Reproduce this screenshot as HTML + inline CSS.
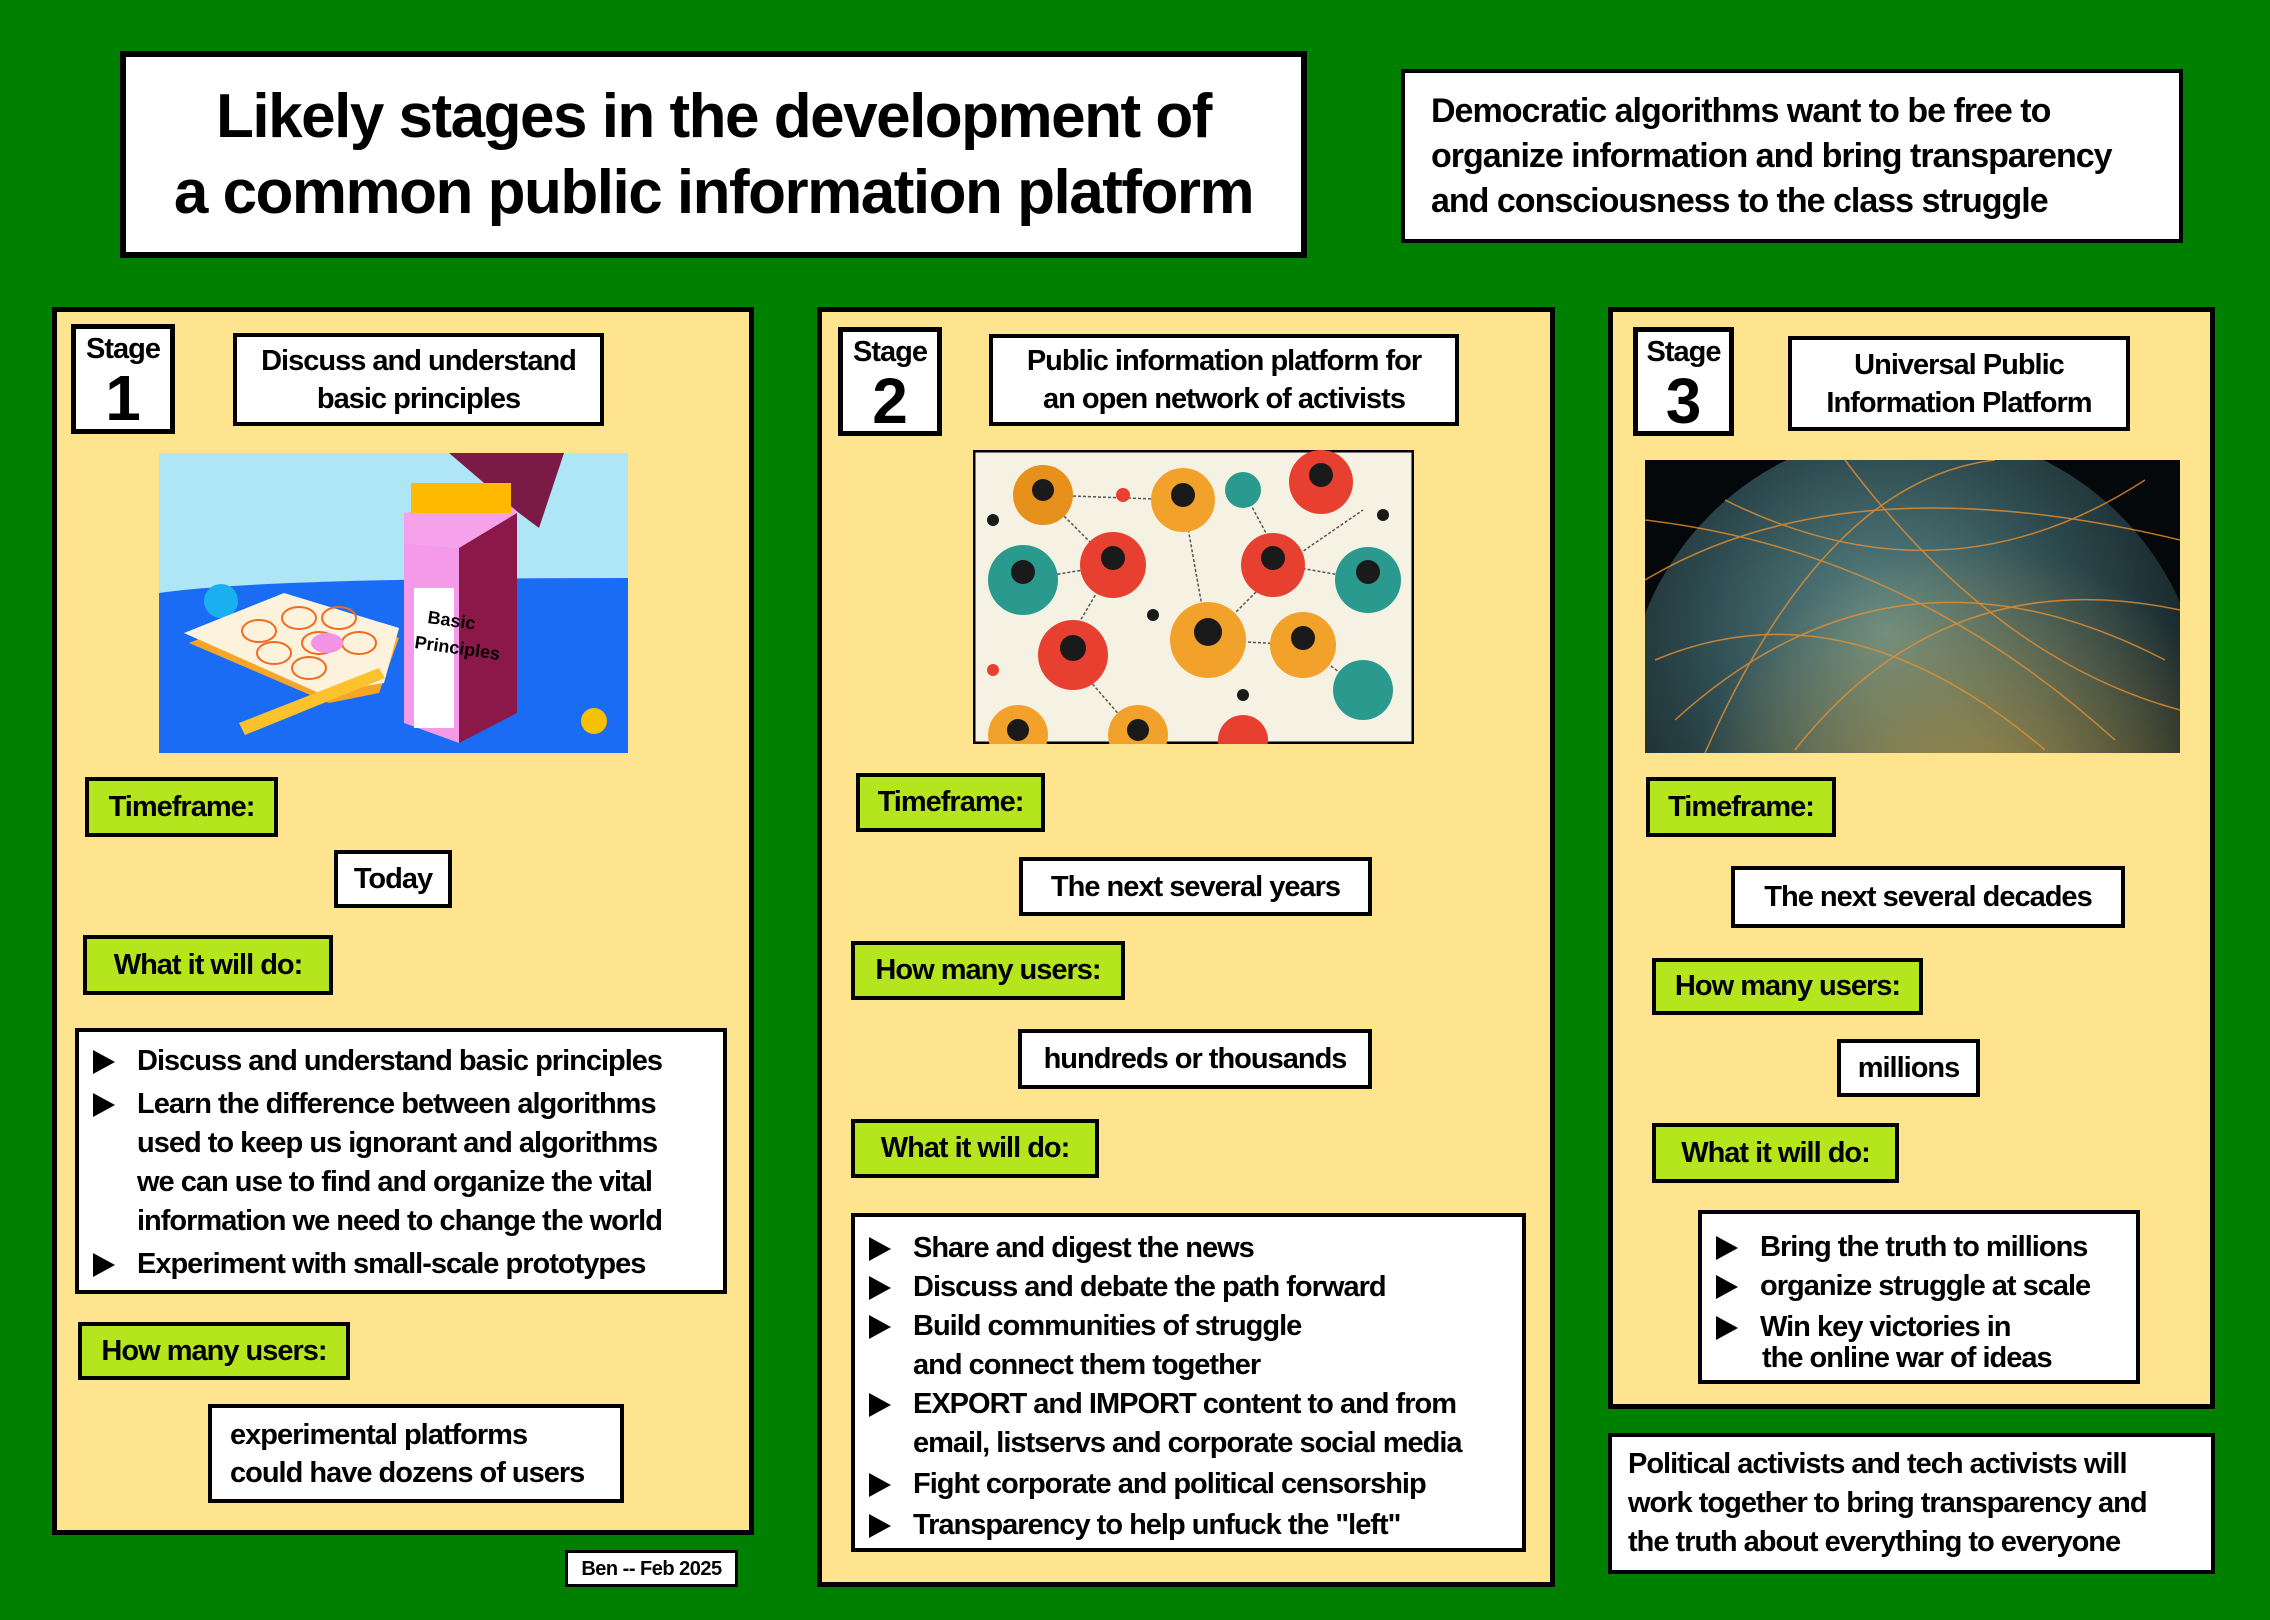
<!DOCTYPE html>
<html><head><meta charset="utf-8"><style>
body{margin:0;width:2270px;height:1620px;background:#008000;position:relative;overflow:hidden;font-family:"Liberation Sans",Arial,sans-serif;font-weight:bold;color:#000}
div{box-sizing:border-box}
.a{position:absolute}
.b{position:absolute;background:#fff;border:4px solid #000;font-size:29px;letter-spacing:-1px;display:flex;align-items:center;justify-content:center;text-align:center;line-height:38px}
.g{position:absolute;background:#b5e61d;border:4px solid #000;font-size:29px;letter-spacing:-1px;display:flex;align-items:center;justify-content:center}
.p{position:absolute;background:#fee48f;border:5px solid #000}
.st{position:absolute;background:#fff;border:5px solid #000;text-align:center;line-height:1}
.st .s{font-size:29px;letter-spacing:-1px;margin-top:6px}
.st .n{font-size:64px;margin-top:2px}
.l{position:absolute;background:#fff;border:4px solid #000;font-size:29px;letter-spacing:-1px;line-height:39px;padding:10px 0 0 0}
.l div{position:relative;padding-left:58px;white-space:nowrap}
.l div.x::before{content:"";position:absolute;left:14px;top:8px;border-left:22px solid #000;border-top:12px solid transparent;border-bottom:12px solid transparent}
</style></head><body>

<div class="b" style="left:120px;top:51px;width:1187px;height:207px;border-width:6px;font-size:62px;line-height:76px;letter-spacing:-1.5px"><span style="display:inline-block">Likely stages in the development of<br>a common public information platform</span></div>
<div class="b" style="left:1401px;top:69px;width:782px;height:174px;justify-content:flex-start;text-align:left;padding-left:26px;font-size:34px;line-height:45px">Democratic algorithms want to be free to<br>organize information and bring transparency<br>and consciousness to the class struggle</div>

<!-- Stage 1 -->
<div class="p" style="left:52px;top:307px;width:702px;height:1228px"></div>
<div class="st" style="left:71px;top:324px;width:104px;height:110px"><div class="s">Stage</div><div class="n">1</div></div>
<div class="b" style="left:233px;top:333px;width:371px;height:93px">Discuss and understand<br>basic principles</div>
<svg class="a" style="left:159px;top:453px" width="469" height="300" viewBox="0 0 469 300">
<rect width="469" height="300" fill="#aee6f8"/>
<path d="M0 140 Q100 125 469 125 L469 300 L0 300Z" fill="#1a6cf5"/>
<circle cx="62" cy="148" r="17" fill="#1ab0f0"/>
<path d="M30 190 L130 150 L240 185 L220 240 L170 250Z" fill="#f7a528"/>
<path d="M25 180 L125 140 L240 175 L225 230 L160 240Z" fill="#fdf3dc"/>
<g fill="none" stroke="#f26a1f" stroke-width="2"><ellipse cx="100" cy="178" rx="17" ry="11"/><ellipse cx="140" cy="165" rx="17" ry="11"/><ellipse cx="115" cy="200" rx="17" ry="11"/><ellipse cx="160" cy="190" rx="17" ry="11"/><ellipse cx="180" cy="165" rx="17" ry="11"/><ellipse cx="200" cy="190" rx="17" ry="11"/><ellipse cx="150" cy="215" rx="17" ry="11"/></g>
<ellipse cx="168" cy="190" rx="16" ry="10" fill="#f293e3"/>
<path d="M80 270 L220 215 L226 225 L86 282Z" fill="#fcc22c"/>
<path d="M245 90 L300 95 L300 290 L245 270Z" fill="#f59ae8"/>
<path d="M300 95 L358 55 L358 260 L300 290Z" fill="#8b1848"/>
<path d="M245 60 L358 40 L358 60 L300 95 L245 90Z" fill="#f6a2ea"/>
<path d="M290 0 L405 0 L380 75 L360 60Z" fill="#7a1a46"/>
<rect x="252" y="30" width="100" height="30" fill="#ffba00"/>
<rect x="255" y="135" width="40" height="140" fill="#fff"/>
<text x="268" y="170" font-size="18" font-family="Liberation Sans" transform="rotate(8 268 170)">Basic</text>
<text x="255" y="195" font-size="18" font-family="Liberation Sans" transform="rotate(8 255 195)">Principles</text>
<circle cx="435" cy="268" r="13" fill="#f7c000"/>
</svg>
<div class="g" style="left:85px;top:777px;width:193px;height:60px">Timeframe:</div>
<div class="b" style="left:334px;top:850px;width:118px;height:58px">Today</div>
<div class="g" style="left:83px;top:935px;width:250px;height:60px">What it will do:</div>
<div class="l" style="left:75px;top:1028px;width:652px;height:266px">
<div class="x">Discuss and understand basic principles</div>
<div class="x" style="margin-top:4px">Learn the difference between algorithms</div>
<div>used to keep us ignorant and algorithms</div>
<div>we can use to find and organize the vital</div>
<div>information we need to change the world</div>
<div class="x" style="margin-top:4px">Experiment with small-scale prototypes</div>
</div>
<div class="g" style="left:78px;top:1322px;width:272px;height:58px">How many users:</div>
<div class="b" style="left:208px;top:1404px;width:416px;height:99px;justify-content:flex-start;text-align:left;padding-left:18px">experimental platforms<br>could have dozens of users</div>
<div class="b" style="left:565px;top:1550px;width:173px;height:37px;border-width:3px;font-size:20px;letter-spacing:-.5px">Ben -- Feb 2025</div>

<!-- Stage 2 -->
<div class="p" style="left:817px;top:307px;width:738px;height:1280px"></div>
<div class="st" style="left:838px;top:327px;width:104px;height:109px"><div class="s">Stage</div><div class="n">2</div></div>
<div class="b" style="left:989px;top:334px;width:470px;height:92px">Public information platform for<br>an open network of activists</div>
<svg class="a" style="left:973px;top:450px" width="441" height="294" viewBox="0 0 441 294">
<rect x="1" y="1" width="439" height="292" fill="#f6f2e3" stroke="#000" stroke-width="3"/>
<g stroke="#555" stroke-width="1.5" stroke-dasharray="3 2"><line x1="70" y1="45" x2="210" y2="50"/><line x1="70" y1="45" x2="140" y2="115"/><line x1="140" y1="115" x2="90" y2="200"/><line x1="210" y1="50" x2="235" y2="190"/><line x1="235" y1="190" x2="310" y2="115"/><line x1="310" y1="115" x2="390" y2="60"/><line x1="310" y1="115" x2="395" y2="130"/><line x1="235" y1="190" x2="330" y2="195"/><line x1="50" y1="130" x2="140" y2="115"/><line x1="90" y1="200" x2="155" y2="275"/><line x1="330" y1="195" x2="390" y2="240"/><line x1="270" y1="40" x2="310" y2="115"/></g>
<g><circle cx="70" cy="45" r="30" fill="#e8901c"/><circle cx="210" cy="50" r="32" fill="#f2a22a"/><circle cx="270" cy="40" r="18" fill="#2a9a8f"/><circle cx="348" cy="32" r="32" fill="#e84030"/><circle cx="50" cy="130" r="35" fill="#2a9a8f"/><circle cx="140" cy="115" r="33" fill="#e84030"/><circle cx="300" cy="115" r="32" fill="#e84030"/><circle cx="395" cy="130" r="33" fill="#2a9a8f"/><circle cx="100" cy="205" r="35" fill="#e84030"/><circle cx="235" cy="190" r="38" fill="#f2a22a"/><circle cx="330" cy="195" r="33" fill="#f2a22a"/><circle cx="390" cy="240" r="30" fill="#2a9a8f"/><circle cx="45" cy="285" r="30" fill="#f2a22a"/><circle cx="165" cy="285" r="30" fill="#f2a22a"/><circle cx="270" cy="290" r="25" fill="#e84030"/></g>
<g fill="#1a1a1a"><circle cx="70" cy="40" r="11"/><circle cx="210" cy="45" r="12"/><circle cx="348" cy="25" r="12"/><circle cx="50" cy="122" r="12"/><circle cx="140" cy="108" r="12"/><circle cx="300" cy="108" r="12"/><circle cx="395" cy="122" r="12"/><circle cx="100" cy="198" r="13"/><circle cx="235" cy="182" r="14"/><circle cx="330" cy="188" r="12"/><circle cx="45" cy="280" r="11"/><circle cx="165" cy="280" r="11"/></g>
<g fill="#1a1a1a"><circle cx="180" cy="165" r="6"/><circle cx="20" cy="70" r="6"/><circle cx="270" cy="245" r="6"/><circle cx="410" cy="65" r="6"/></g>
<g fill="#e84030"><circle cx="150" cy="45" r="7"/><circle cx="20" cy="220" r="6"/></g>
</svg>
<div class="g" style="left:856px;top:773px;width:189px;height:59px">Timeframe:</div>
<div class="b" style="left:1019px;top:857px;width:353px;height:59px">The next several years</div>
<div class="g" style="left:851px;top:941px;width:274px;height:59px">How many users:</div>
<div class="b" style="left:1018px;top:1029px;width:354px;height:60px">hundreds or thousands</div>
<div class="g" style="left:851px;top:1119px;width:248px;height:59px">What it will do:</div>
<div class="l" style="left:851px;top:1213px;width:675px;height:339px;padding-top:12px">
<div class="x">Share and digest the news</div>
<div class="x">Discuss and debate the path forward</div>
<div class="x">Build communities of struggle</div>
<div>and connect them together</div>
<div class="x">EXPORT and IMPORT content to and from</div>
<div>email, listservs and corporate social media</div>
<div class="x" style="margin-top:2px">Fight corporate and political censorship</div>
<div class="x" style="margin-top:2px">Transparency to help unfuck the "left"</div>
</div>

<!-- Stage 3 -->
<div class="p" style="left:1608px;top:307px;width:607px;height:1102px"></div>
<div class="st" style="left:1633px;top:327px;width:101px;height:109px"><div class="s">Stage</div><div class="n">3</div></div>
<div class="b" style="left:1788px;top:336px;width:342px;height:95px">Universal Public<br>Information Platform</div>
<svg class="a" style="left:1645px;top:460px" width="535" height="293" viewBox="0 0 535 293">
<defs><radialGradient id="gl" cx="45%" cy="35%" r="65%"><stop offset="0" stop-color="#5f8a8a"/><stop offset=".5" stop-color="#2d4a4f"/><stop offset="1" stop-color="#0c1416"/></radialGradient>
<radialGradient id="gw" cx="60%" cy="70%" r="50%"><stop offset="0" stop-color="#c9a040" stop-opacity=".8"/><stop offset="1" stop-color="#c9a040" stop-opacity="0"/></radialGradient></defs>
<rect width="535" height="293" fill="#05080a"/>
<circle cx="270" cy="260" r="290" fill="url(#gl)"/>
<circle cx="270" cy="260" r="290" fill="url(#gw)"/>
<g fill="none" stroke="#e89030" stroke-width="1.5" opacity=".8"><path d="M0 120 Q200 0 535 80"/><path d="M30 260 Q250 60 520 200"/><path d="M80 40 Q300 150 500 20"/><path d="M10 200 Q200 120 400 290"/><path d="M150 290 Q300 100 535 150"/><path d="M0 60 Q260 90 470 280"/><path d="M60 293 Q180 20 350 0"/><path d="M200 0 Q350 200 535 250"/></g>
</svg>
<div class="g" style="left:1646px;top:777px;width:190px;height:60px">Timeframe:</div>
<div class="b" style="left:1731px;top:866px;width:394px;height:62px">The next several decades</div>
<div class="g" style="left:1652px;top:958px;width:271px;height:57px">How many users:</div>
<div class="b" style="left:1837px;top:1039px;width:143px;height:58px">millions</div>
<div class="g" style="left:1652px;top:1123px;width:247px;height:60px">What it will do:</div>
<div class="l" style="left:1698px;top:1210px;width:442px;height:174px;padding-top:14px;line-height:39px">
<div class="x">Bring the truth to millions</div>
<div class="x">organize struggle at scale</div>
<div class="x" style="margin-top:2px">Win key victories in</div>
<div style="margin-top:-8px;padding-left:60px">the online war of ideas</div>
</div>
<div class="b" style="left:1608px;top:1433px;width:607px;height:141px;justify-content:flex-start;text-align:left;padding-left:16px;line-height:39px">Political activists and tech activists will<br>work together to bring transparency and<br>the truth about everything to everyone</div>
</body></html>
